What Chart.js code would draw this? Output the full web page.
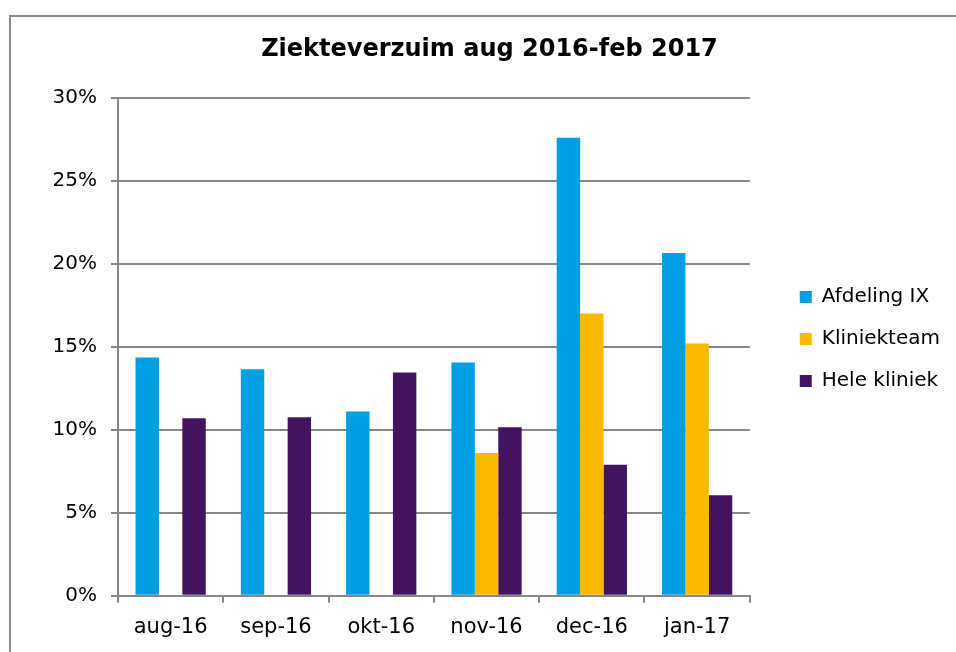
<!DOCTYPE html>
<html>
<head>
<meta charset="utf-8">
<script src="https://cdn.jsdelivr.net/npm/chart.js@4/dist/chart.umd.min.js"></script>
<style>
    html, body { margin: 0; padding: 0; background: #fff; overflow: hidden; width: 956px; height: 652px; }
    #frame { position: absolute; left: 9px; top: 15px; width: 1000px; height: 700px; border-left: 2px solid #8a8a8a; border-top: 2px solid #8a8a8a; }
    #box { position: absolute; left: 9px; top: 15px; }
</style>
</head>
<body>
<div id="frame"></div>
<div id="box"><canvas id="verzuim" width="962" height="637"></canvas></div>
<script>
const months = ['aug-16', 'sep-16', 'okt-16', 'nov-16', 'dec-16', 'jan-17'];
const afdelingIX = [14.35, 13.65, 11.1, 14.05, 27.6, 20.65];
const kliniekteam = [null, null, null, 8.6, 17.0, 15.2];
const heleKliniek = [10.7, 10.75, 13.45, 10.15, 7.9, 6.05];
const yTicks = [0, 5, 10, 15, 20, 25, 30];

const gridGrey = '#868686';
const font = 'DejaVu Sans, Verdana, sans-serif';

// the legend is squeezed to a third of half the width by default, let it take what it needs
const wideLegend = {
    id: 'wideLegend',
    beforeLayout(chart) {
        const legend = chart.legend;
        if (!legend || legend._wide) return;
        const update = legend.update.bind(legend);
        legend.update = (maxWidth, maxHeight, margins) => update(Math.max(maxWidth, 260), maxHeight, margins);
        legend._wide = true;
    }
};

const ctx = document.getElementById('verzuim').getContext('2d');

new Chart(ctx, {
    type: 'bar',
    data: {
        labels: months,
        datasets: [
            { label: 'Afdeling IX', data: afdelingIX, backgroundColor: '#009FE3' },
            { label: 'Kliniekteam', data: kliniekteam, backgroundColor: '#FBBA00' },
            { label: 'Hele kliniek', data: heleKliniek, backgroundColor: '#42145F' }
        ]
    },
    plugins: [wideLegend],
    options: {
        responsive: false,
        devicePixelRatio: 1,
        animation: false,
        datasets: {
            bar: { categoryPercentage: 0.667, barPercentage: 1.0 }
        },
        layout: {
            padding: { top: 10, bottom: 0, left: 20, right: 21 }
        },
        scales: {
            x: {
                grid: {
                    offset: true,
                    drawOnChartArea: false,
                    color: gridGrey,
                    lineWidth: 2,
                    tickLength: 7
                },
                border: { color: gridGrey, width: 2 },
                ticks: {
                    color: '#000',
                    padding: 12,
                    font: { family: font, size: 21 }
                }
            },
            y: {
                min: 0,
                max: 30,
                afterBuildTicks: (s) => { s.ticks = yTicks.map((v) => ({ value: v })); },
                afterFit: (s) => { s.width = 89; },
                grid: { color: gridGrey, lineWidth: 2, tickLength: 7 },
                border: { color: gridGrey, width: 2 },
                ticks: {
                    color: '#000',
                    padding: 14,
                    font: { family: font, size: 20 },
                    callback: (v) => v + '%'
                }
            },
            gap: {
                type: 'linear',
                position: 'right',
                grid: { display: false },
                border: { display: false },
                ticks: { display: false },
                afterFit: (s) => { s.width = 28; }
            }
        },
        plugins: {
            title: {
                display: true,
                text: 'Ziekteverzuim aug 2016-feb 2017',
                color: '#000',
                font: { family: font, size: 24, weight: 'bold' },
                padding: { top: 10, bottom: 34 }
            },
            legend: {
                position: 'right',
                title: {
                    display: true,
                    text: ' ',
                    font: { size: 1 },
                    padding: { top: 0, bottom: 0 }
                },
                labels: {
                    color: '#000',
                    boxWidth: 12,
                    boxHeight: 12,
                    padding: 22,
                    font: { family: font, size: 20 }
                }
            },
            tooltip: { enabled: false }
        }
    }
});
</script>
</body>
</html>
